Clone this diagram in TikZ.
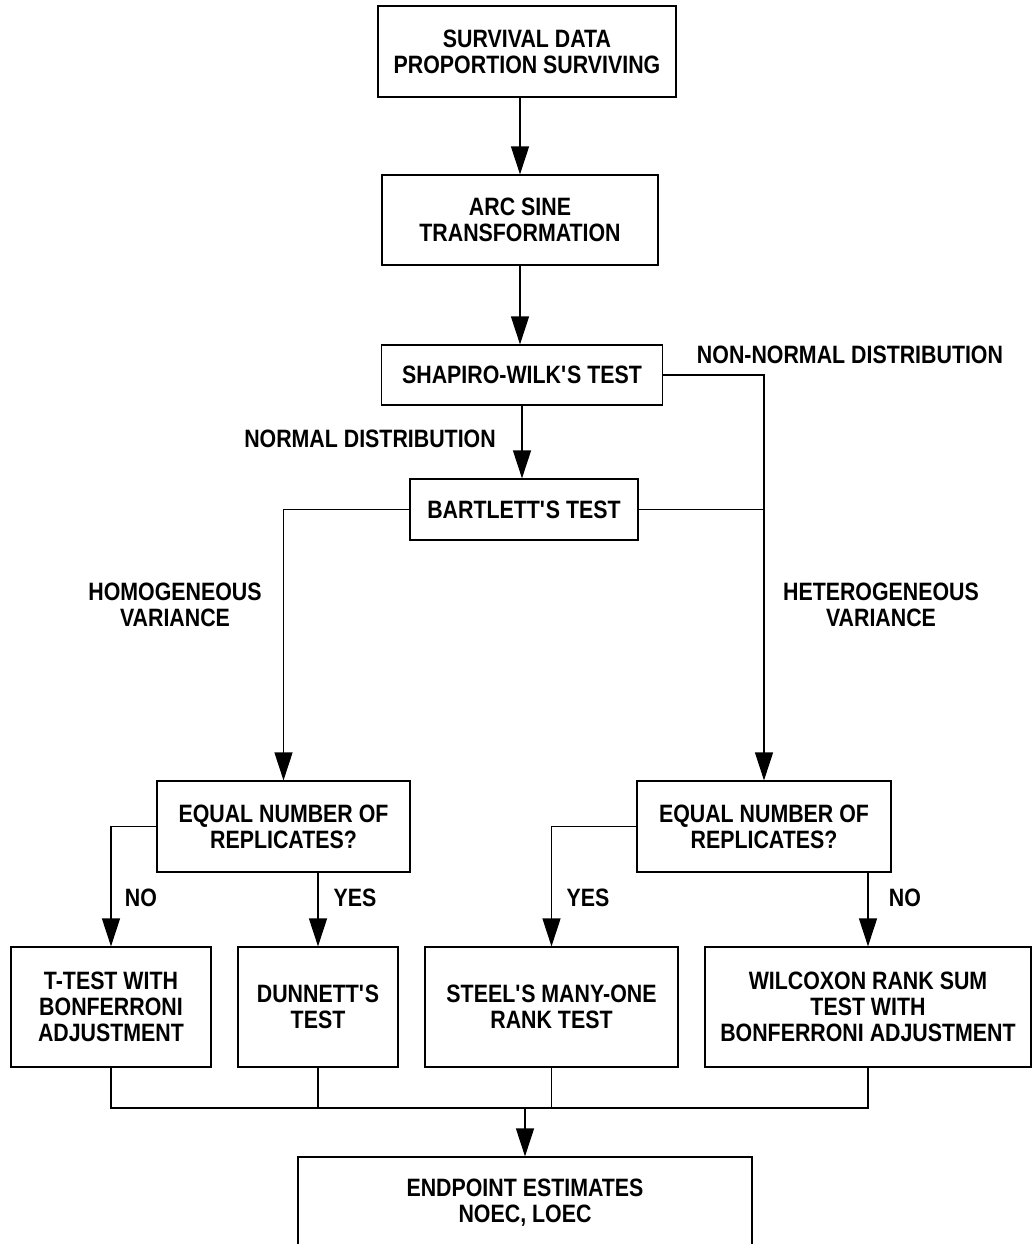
\documentclass[tikz,border=0pt]{standalone}
\usepackage{fontspec}
\setmainfont{Liberation Sans}[FakeStretch=0.85]
\usetikzlibrary{arrows.meta}
\tikzset{
	box/.style={draw, line width=0.7pt, align=center, inner sep=0pt},
	arr/.style={-{Triangle[length=0.56cm, width=0.36cm]}},
	lbl/.style={align=center, inner sep=0pt}
}

\begin{document}
\begin{tikzpicture}[x=0.02cm, y=-0.02cm, line width=0.7pt,
		font=\fontsize{14.3}{14.8}\selectfont\bfseries]
			%%%%% START %%%%%
			\useasboundingbox (0, 0) rectangle (1032, 1244);
			
			\node[box, minimum width=5.96cm, minimum height=1.82cm] (surv) at (527, 51.5) {SURVIVAL DATA\\PROPORTION SURVIVING};
			\node[box, minimum width=5.52cm, minimum height=1.80cm] (arc) at (520, 220) {ARC SINE\\TRANSFORMATION};
			\node[box, minimum width=5.62cm, minimum height=1.20cm] (shap) at (522, 375) {SHAPIRO-WILK\textquotesingle S TEST};
			\node[box, minimum width=4.56cm, minimum height=1.22cm] (bart) at (524, 509.5) {BARTLETT\textquotesingle S TEST};
			
			\node[box, minimum width=5.06cm, minimum height=1.82cm] (eqL) at (283.5, 826.5) {EQUAL NUMBER OF\\REPLICATES?};
			\node[box, minimum width=5.08cm, minimum height=1.82cm] (eqR) at (764, 826.5) {EQUAL NUMBER OF\\REPLICATES?};
			
			\node[box, minimum width=4.00cm, minimum height=2.40cm] (ttest) at (111, 1007) {T-TEST WITH\\BONFERRONI\\ADJUSTMENT};
			\node[box, minimum width=3.20cm, minimum height=2.40cm] (dunn) at (318, 1007) {DUNNETT\textquotesingle S\\TEST};
			\node[box, minimum width=5.06cm, minimum height=2.40cm] (steel) at (551.5, 1007) {STEEL\textquotesingle S MANY-ONE\\RANK TEST};
			\node[box, minimum width=6.52cm, minimum height=2.40cm] (wilc) at (868, 1007) {WILCOXON RANK SUM\\TEST WITH\\BONFERRONI ADJUSTMENT};
			
			\node[box, minimum width=9.08cm, minimum height=1.82cm] (endp) at (525, 1202.5) {ENDPOINT ESTIMATES\\NOEC, LOEC};
			
			\node[lbl] (nonnorm) at (850, 355) {NON-NORMAL DISTRIBUTION};
			\node[lbl] (norm) at (370, 439) {NORMAL DISTRIBUTION};
			\node[lbl] (homo) at (175, 605) {HOMOGENEOUS\\VARIANCE};
			\node[lbl] (hetero) at (881, 605) {HETEROGENEOUS\\VARIANCE};
			\node[lbl] (noL) at (141, 898) {NO};
			\node[lbl] (yesL) at (355, 898) {YES};
			\node[lbl] (yesR) at (588, 898) {YES};
			\node[lbl] (noR) at (905, 898) {NO};
			
			\coordinate (join) at (525, 1108);
			
			\draw[arr] (surv.south -| arc.north) -- (arc.north);
			\draw[arr] (arc.south) -- (arc.south |- shap.north);
			\draw[arr] (shap.south) -- (shap.south |- bart.north);
			\draw[arr] (shap.east) -| (eqR.north);
			\draw (bart.east) -- (bart.east -| eqR.north);
			\draw[arr] (bart.west) -| (eqL.north);
			
			\draw[arr] (eqL.west) -| (ttest.north);
			\draw[arr] (eqL.south -| dunn.north) -- (dunn.north);
			\draw[arr] (eqR.west) -| (steel.north);
			\draw[arr] (eqR.south -| wilc.north) -- (wilc.north);
			
			\draw (ttest.south) |- (join -| wilc.south) -- (wilc.south);
			\draw (dunn.south) -- (dunn.south |- join);
			\draw (steel.south) -- (steel.south |- join);
			\draw[arr] (join) -- (endp.north);
			
			%%%%% END %%%%%
		\end{tikzpicture}
\end{document}
